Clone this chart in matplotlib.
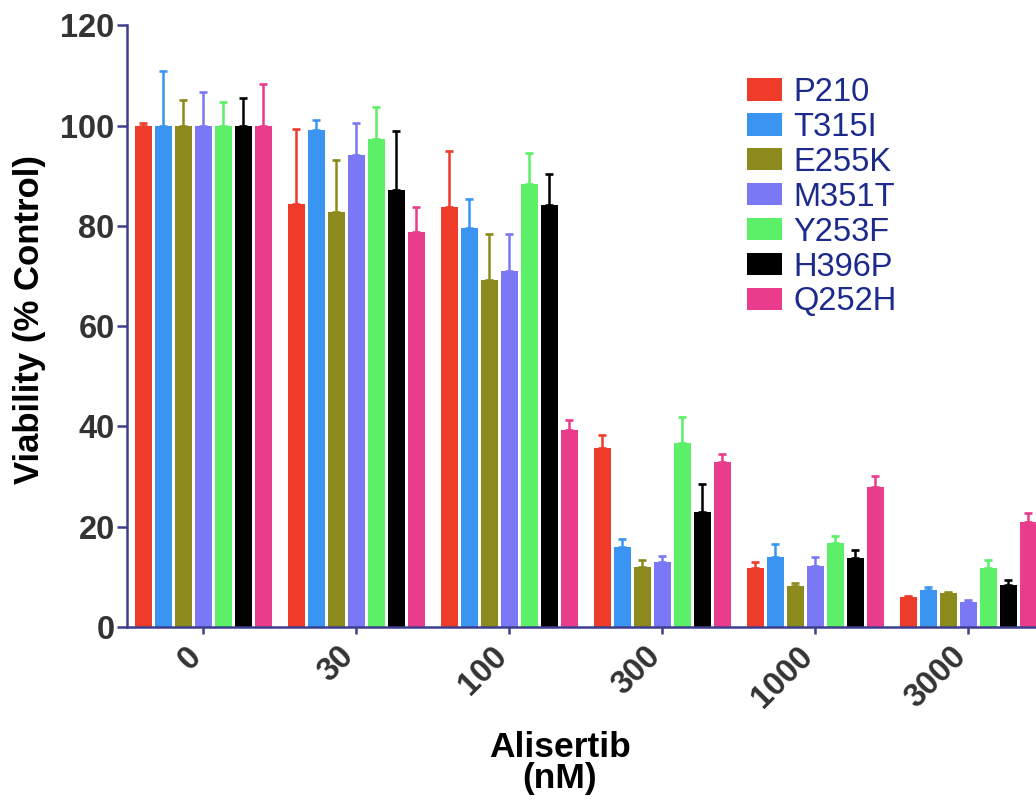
import matplotlib
matplotlib.use("Agg")
import matplotlib.pyplot as plt
import matplotlib.transforms as mtransforms
import numpy as np

plt.rcParams['font.family'] = ['Liberation Sans', 'DejaVu Sans']

doses = ["0", "30", "100", "300", "1000", "3000"]
series = ["P210", "T315I", "E255K", "M351T", "Y253F", "H396P", "Q252H"]
colors = ["#ef3b2a", "#3a95f2", "#8c8a1c", "#7a78f4", "#5cf068", "#000000", "#ea3c8c"]

P210  = [100.0, 84.3, 83.7, 35.8, 11.8, 5.9]
T315I = [100.0, 99.1, 79.6, 16.0, 14.0, 7.4]
E255K = [100.0, 82.8, 69.3, 12.0, 8.2, 6.7]
M351T = [100.0, 94.2, 71.0, 13.0, 12.2, 5.0]
Y253F = [100.0, 97.3, 88.4, 36.7, 16.7, 11.8]
H396P = [100.0, 87.2, 84.1, 22.9, 13.8, 8.4]
Q252H = [100.0, 78.7, 39.3, 32.9, 28.0, 21.0]

P210_err  = [0.5, 15.0, 11.3, 2.5, 1.2, 0.3]
T315I_err = [11.0, 2.0, 5.7, 1.5, 2.5, 0.5]
E255K_err = [5.2, 10.4, 9.0, 1.3, 0.5, 0.3]
M351T_err = [6.7, 6.3, 7.3, 1.2, 1.8, 0.3]
Y253F_err = [4.7, 6.5, 6.1, 5.2, 1.4, 1.5]
H396P_err = [5.6, 11.7, 6.2, 5.6, 1.5, 1.0]
Q252H_err = [8.4, 5.0, 2.0, 1.6, 2.1, 1.7]

values = [P210, T315I, E255K, M351T, Y253F, H396P, Q252H]
errors = [P210_err, T315I_err, E255K_err, M351T_err, Y253F_err, H396P_err, Q252H_err]

W, H = 1036, 807
fig = plt.figure(figsize=(W / 100, H / 100), dpi=100)

# axes geometry in pixels
left_px, right_px = 126.5, 1045.0
bottom_px, top_px = 627.0, 25.4
ax = fig.add_axes([left_px / W, 1 - bottom_px / H,
                   (right_px - left_px) / W, (bottom_px - top_px) / H])

spine_c = "#3d3f8e"
x = np.arange(len(doses))
step = 0.1307
width = 0.111
for j, (name, vals, errs, c) in enumerate(zip(series, values, errors, colors)):
    pos = x + (j - 3) * step
    ax.bar(pos, vals, width=width, color=c, label=name, zorder=2)
    ax.errorbar(pos, vals, yerr=[np.zeros(len(vals)), errs], fmt='none',
                ecolor=c, elinewidth=1.8, capsize=2.9, capthick=1.9, zorder=3)

ax.set_xlim(-0.5, 5.5)
ax.set_ylim(0, 120)
ax.set_yticks(np.arange(0, 121, 20))
ax.set_xticks(x)
ax.set_xticklabels(doses, rotation=45, ha='right', fontsize=23.5,
                   fontweight='bold', color='#333333')
ax.tick_params(axis='y', labelsize=23.5, labelcolor='#333333', length=7,
               width=1.8, color=spine_c, pad=1.5)
ax.tick_params(axis='x', length=5, width=1.8, color=spine_c, pad=5)
for lab in ax.get_yticklabels():
    lab.set_fontweight('bold')
offset = mtransforms.ScaledTranslation(4 / 100, 0, fig.dpi_scale_trans)
for lab in ax.get_xticklabels():
    lab.set_transform(lab.get_transform() + offset)

for s in ['top', 'right']:
    ax.spines[s].set_visible(False)
for s in ['left', 'bottom']:
    ax.spines[s].set_color(spine_c)
    ax.spines[s].set_linewidth(1.8)

fig.text(30 / W, 1 - 320 / H, "Viability (% Control)", rotation=90,
         ha='center', va='center', fontsize=25, fontweight='bold', color='black')
fig.text(560 / W, 1 - 757 / H, "Alisertib", ha='center', va='baseline',
         fontsize=25.5, fontweight='bold', color='black')
fig.text(560 / W, 1 - 788 / H, "(nM)", ha='center', va='baseline',
         fontsize=25.5, fontweight='bold', color='black')

leg = ax.legend(loc='upper left', bbox_to_anchor=(747 / W, 1 - 77 / H),
                bbox_transform=fig.transFigure, frameon=False, fontsize=23.5,
                handlelength=1.07, handleheight=0.67, handletextpad=0.34,
                labelspacing=0.12, borderpad=0, borderaxespad=0)
for t in leg.get_texts():
    t.set_color('#1c2a8c')

fig.savefig("out.png", dpi=100)
